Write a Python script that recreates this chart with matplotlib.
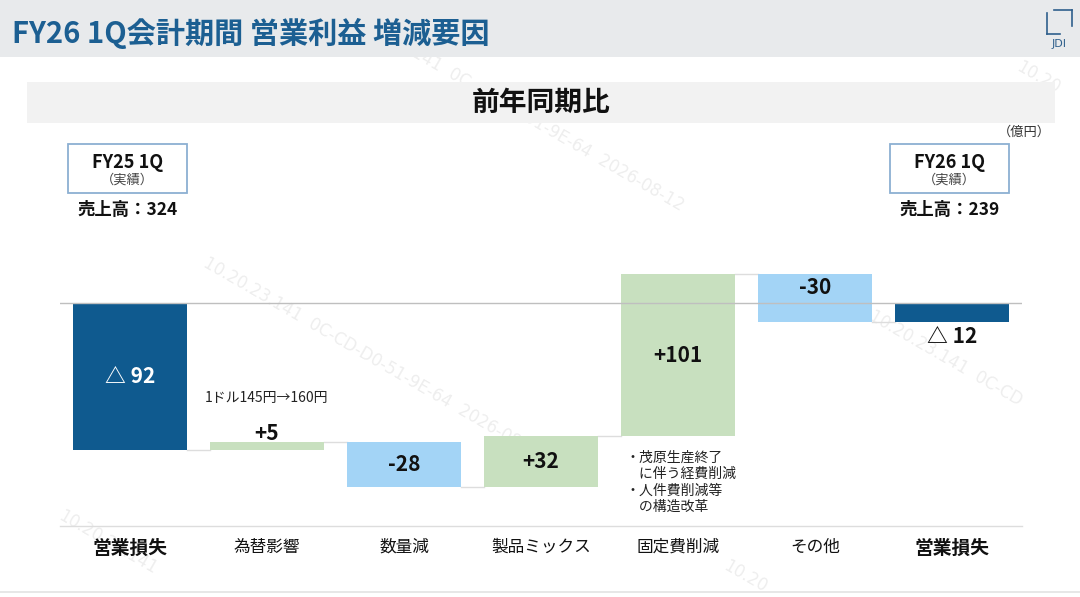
import numpy as np
import matplotlib
matplotlib.use('Agg')
import matplotlib.pyplot as plt
from matplotlib.patches import Rectangle
from matplotlib.lines import Line2D

plt.rcParams['font.family'] = ['Noto Sans CJK JP', 'DejaVu Sans']

# data (億円)
categories = ['営業損失', '為替影響', '数量減', '製品ミックス', '固定費削減', 'その他', '営業損失']
start_value = -92
changes = [5, -28, 32, 101, -30]
end_value = -12
value_labels = ['△ 92', '+5', '-28', '+32', '+101', '-30', '△ 12']
sales_labels = ['売上高：324', '売上高：239']
period_labels = ['FY25 1Q', 'FY26 1Q']

W, H = 1080, 597


def fx(px):
    return px / W


def fy(py):
    return 1 - py / H


fig = plt.figure(figsize=(10.8, 5.97), dpi=100)
fig.patch.set_facecolor('white')

# watermarks (drawn first so the header hides them)
wm = '10.20.23.141  0C-CD-D0-51-9E-64  2026-08-12'
for (px, py), s in [((345, 12), wm), ((205, 262), wm), ((1018, 66), '10.20'),
                    ((60, 515), '10.20.23.141'), ((870, 315), '10.20.23.141  0C-CD'),
                    ((725, 565), '10.20')]:
    fig.text(fx(px), fy(py), s, fontsize=12, color='#000000', alpha=0.07,
             rotation=-30, rotation_mode='anchor', ha='left', va='center', zorder=0,
             family='DejaVu Sans')

# header band
fig.add_artist(Rectangle((0, fy(57)), 1, 57 / H, transform=fig.transFigure,
                         facecolor='#E8EAEC', edgecolor='none', zorder=1))
fig.text(fx(12), fy(33), 'FY26 1Q会計期間 営業利益 増減要因', fontsize=21, fontweight='bold',
         color='#1C5F92', ha='left', va='center', zorder=2)

# JDI logo
logo_c = '#2E5F8C'
for xs, ys in [((1054, 1072), (10, 10)), ((1072, 1072), (10, 26)),
               ((1047, 1047), (13, 34)), ((1047, 1060), (34, 34))]:
    fig.add_artist(Line2D([fx(xs[0]), fx(xs[1])], [fy(ys[0]), fy(ys[1])],
                          transform=fig.transFigure, color=logo_c, lw=1.2, zorder=2))
fig.text(fx(1059), fy(44), 'JDI', fontsize=8, color=logo_c, ha='center', va='center', zorder=2,
         family='DejaVu Sans')

# sub header band
fig.add_artist(Rectangle((fx(27), fy(123)), fx(1055) - fx(27), 41 / H, transform=fig.transFigure,
                         facecolor='#F2F2F2', edgecolor='none', zorder=1))
fig.text(fx(541), fy(103), '前年同期比', fontsize=20, fontweight='bold', color='#111111',
         ha='center', va='center', zorder=2)
fig.text(fx(1051), fy(132), '（億円）', fontsize=9.5, color='#333333', ha='right', va='center')

# period boxes
for (x0, x1), period, sales in zip([(68, 187), (890, 1009)], period_labels, sales_labels):
    fig.add_artist(Rectangle((fx(x0), fy(193)), fx(x1) - fx(x0), 49 / H, transform=fig.transFigure,
                             facecolor='white', edgecolor='#8CB0D2', lw=1.3, zorder=2))
    cx = fx((x0 + x1) / 2)
    fig.text(cx, fy(162), period, fontsize=13, fontweight='bold', color='#111111',
             ha='center', va='center', zorder=3)
    fig.text(cx, fy(180), '（実績）', fontsize=9.5, color='#444444', ha='center', va='center', zorder=3)
    fig.text(cx, fy(210), sales, fontsize=12.5, fontweight='bold', color='#111111',
             ha='center', va='center', zorder=3)

# bottom rule
fig.add_artist(Line2D([0, 1], [fy(592), fy(592)], transform=fig.transFigure,
                      color='#E3E3E3', lw=1.2))

# waterfall
ax = fig.add_axes([fx(60), fy(526), fx(1022) - fx(60), (526 - 240) / H])
ax.set_facecolor('none')
ax.set_zorder(3)

dark = '#0F5A8F'
green = '#C8E0BF'
lblue = '#A3D4F6'
bw = 0.83

cum = np.cumsum([start_value] + changes)
x = np.arange(len(categories))
bottoms = [0] + list(cum[:-1]) + [0]
heights = [start_value] + changes + [end_value]
colors = [dark] + [green if c > 0 else lblue for c in changes] + [dark]
ax.bar(x, heights, bottom=bottoms, width=bw, color=colors, edgecolor='none', zorder=2)

# connectors
levels = list(cum)
for i in range(len(categories) - 1):
    ax.plot([i + bw / 2, i + 1 - bw / 2], [levels[i], levels[i]], color='#DDDDDD', lw=1, zorder=1)

ax.axhline(0, color='#BFBFBF', lw=1, zorder=3)

ax.set_xlim((60 - 130) / 137, (1022 - 130) / 137)
ax.set_ylim(-(526 - 303) / 1.6, (303 - 240) / 1.6)

# value labels
tops = [max(b, b + h) for b, h in zip(bottoms, heights)]
bots = [min(b, b + h) for b, h in zip(bottoms, heights)]
for i, lab in enumerate(value_labels):
    kw = dict(fontsize=15, fontweight='bold', ha='center', zorder=4)
    if i == 0:
        ax.text(i, (tops[i] + bots[i]) / 2, lab, color='white', va='center', **kw)
    elif i == 1:
        ax.annotate(lab, (i, tops[i]), xytext=(0, -1), textcoords='offset points',
                    color='#111111', va='bottom', **kw)
    elif i == 5:
        ax.annotate(lab, (i, tops[i]), xytext=(0, -2), textcoords='offset points',
                    color='#111111', va='top', **kw)
    elif i == len(value_labels) - 1:
        ax.annotate(lab, (i, bots[i]), xytext=(0, -3), textcoords='offset points',
                    color='#111111', va='top', **kw)
    else:
        ax.text(i, (tops[i] + bots[i]) / 2, lab, color='#111111', va='center', **kw)

# notes
ax.annotate('1ドル145円→160円', (1, tops[1]), xytext=(0, 32), textcoords='offset points',
            fontsize=10, color='#222222', ha='center', va='center')
ax.annotate('・茂原生産終了\n　に伴う経費削減\n・人件費削減等\n　の構造改革', (4 - bw / 2, bots[4]),
            xytext=(3, -11), textcoords='offset points', fontsize=10, color='#222222',
            ha='left', va='top', linespacing=1.2)

# axes styling
ax.set_yticks([])
ax.set_xticks(x)
ax.set_xticklabels(categories)
for i, t in enumerate(ax.get_xticklabels()):
    if i in (0, len(categories) - 1):
        t.set_fontweight('bold')
        t.set_fontsize(13.5)
    else:
        t.set_fontsize(12)
    t.set_color('#111111')
ax.tick_params(axis='x', length=0, pad=9)
for s in ['top', 'left', 'right']:
    ax.spines[s].set_visible(False)
ax.spines['bottom'].set_color('#DDDDDD')
ax.spines['bottom'].set_linewidth(1)

fig.savefig('out.png', dpi=100)
